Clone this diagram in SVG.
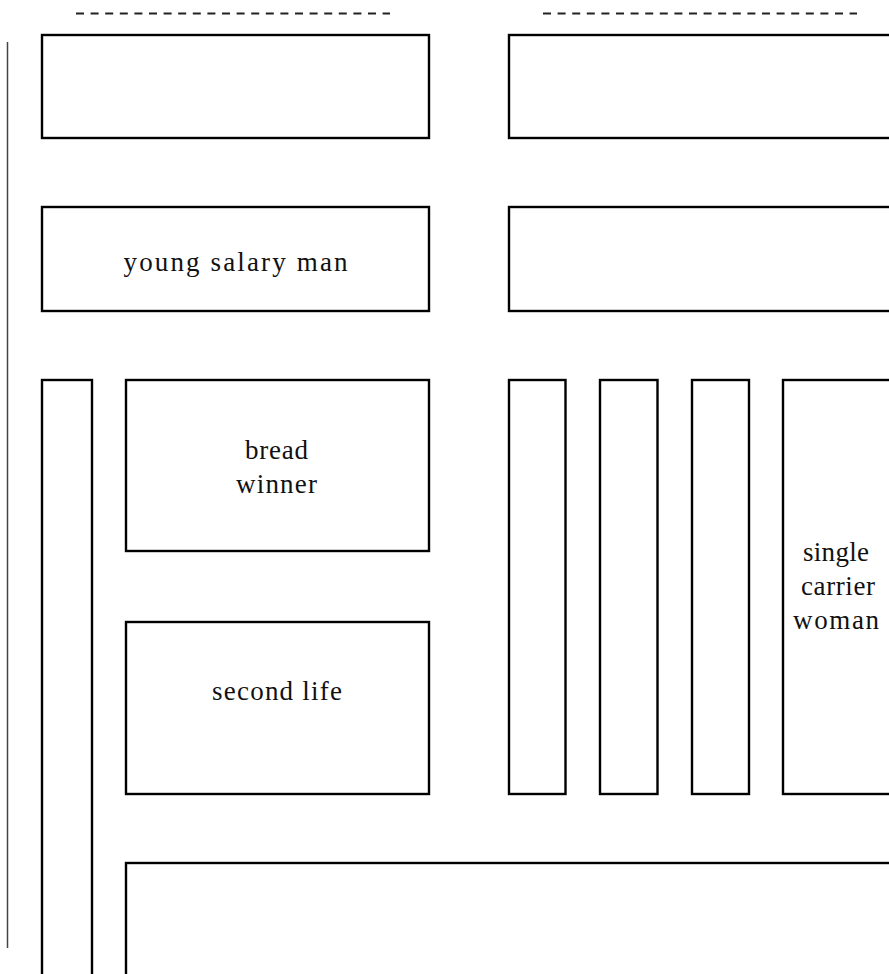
<svg xmlns="http://www.w3.org/2000/svg" width="889" height="974" viewBox="0 0 889 974">
<style>
.box{fill:#fff;stroke:#000;stroke-width:2.4}
.lbl{font-family:"Liberation Serif",Tinos,"Times New Roman",Times,serif;font-size:27px;fill:#111;text-anchor:middle}
.dash{stroke:#222;stroke-width:2;stroke-dasharray:8 6.6;fill:none}
.rule{stroke:#444;stroke-width:1.5;fill:none}
</style>
<rect width="889" height="974" fill="#fff"/>
<g id="decorations">
<line class="dash" x1="76" y1="13.5" x2="390" y2="13.5"/>
<line class="dash" x1="543" y1="13.5" x2="857" y2="13.5"/>
<line class="rule" x1="7.5" y1="42" x2="7.5" y2="948"/>
</g>
<g id="connectors"></g>
<g id="box-r1-left"><rect class="box" x="42" y="35" width="387" height="103"/></g>
<g id="box-r1-right"><rect class="box" x="509" y="35" width="390" height="103"/></g>
<g id="young-salary-man"><rect class="box" x="42" y="207" width="387" height="104"/>
<text class="lbl" x="235.5" y="271" textLength="224">young salary man</text></g>
<g id="box-r2-right"><rect class="box" x="509" y="207" width="390" height="104"/></g>
<g id="tall-left"><rect class="box" x="42" y="380" width="50" height="610"/></g>
<g id="bread-winner"><rect class="box" x="126" y="380" width="303" height="171"/>
<text class="lbl" x="276.5" y="459" textLength="63">bread</text>
<text class="lbl" x="276.5" y="493" textLength="81">winner</text></g>
<g id="second-life"><rect class="box" x="126" y="622" width="303" height="172"/>
<text class="lbl" x="277" y="700" textLength="130">second life</text></g>
<g id="col-1"><rect class="box" x="509" y="380" width="56.5" height="414"/></g>
<g id="col-2"><rect class="box" x="600" y="380" width="57.5" height="414"/></g>
<g id="col-3"><rect class="box" x="692" y="380" width="57" height="414"/></g>
<g id="single-carrier-woman"><rect class="box" x="783" y="380" width="116" height="414"/>
<text class="lbl" x="836" y="561" textLength="66">single</text>
<text class="lbl" x="838" y="595" textLength="74">carrier</text>
<text class="lbl" x="836" y="629" textLength="86">woman</text></g>
<g id="bottom-box"><rect class="box" x="126" y="863" width="773" height="130"/></g>
</svg>
